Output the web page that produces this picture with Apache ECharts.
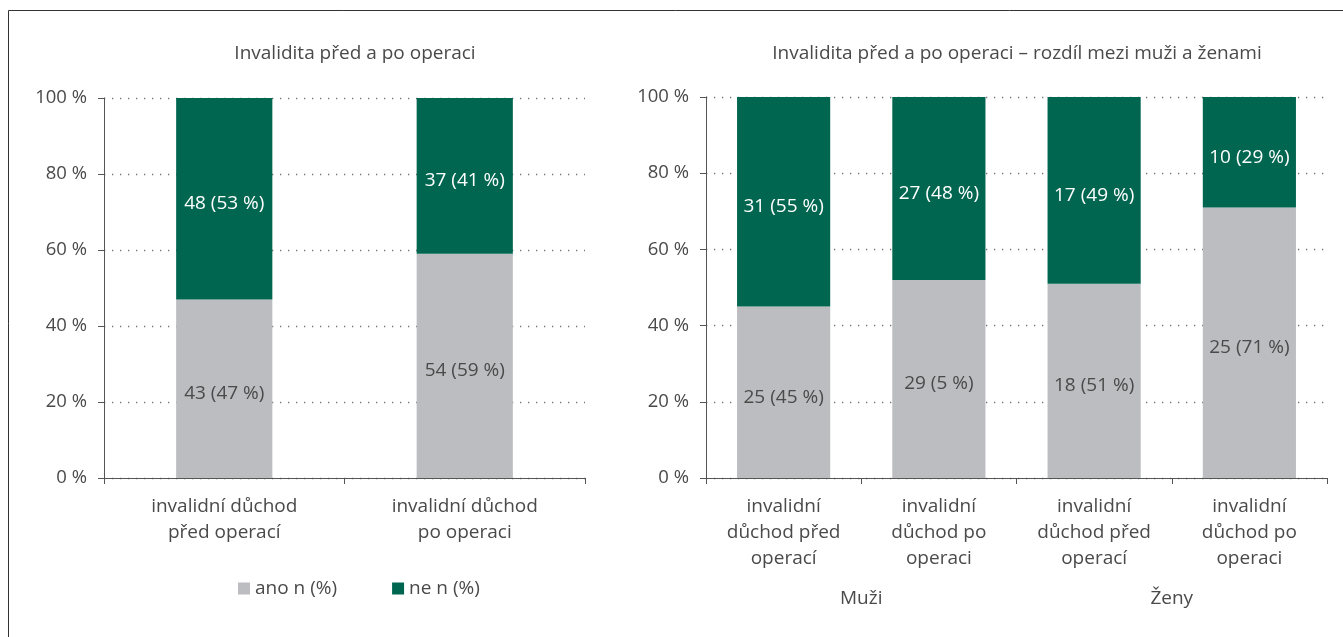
<!DOCTYPE html>
<html>
<head>
<meta charset="utf-8">
<script src="https://cdn.jsdelivr.net/npm/echarts@6/dist/echarts.min.js"></script>
<style>
html,body{margin:0;padding:0;background:#fff;}
#chart{width:1343px;height:637px;}
</style>
</head>
<body>
<div id="chart"></div>
<script>
// ---- data ----
const leftTitle = 'Invalidita před a po operaci';
const rightTitle = 'Invalidita před a po operaci – rozdíl mezi muži a ženami';
const leftCategories = ['invalidní důchod\npřed operací', 'invalidní důchod\npo operaci'];
const rightCategories = ['invalidní\ndůchod před\noperací', 'invalidní\ndůchod po\noperaci', 'invalidní\ndůchod před\noperací', 'invalidní\ndůchod po\noperaci'];
const rightGroups = ['Muži', 'Ženy'];
const seriesNames = ['ano n (%)', 'ne n (%)'];
const leftAno = [47, 59];
const leftNe = [53, 41];
const leftAnoLabels = ['43 (47 %)', '54 (59 %)'];
const leftNeLabels = ['48 (53 %)', '37 (41 %)'];
const rightAno = [45, 52, 51, 71];
const rightNe = [55, 48, 49, 29];
const rightAnoLabels = ['25 (45 %)', '29 (5 %)', '18 (51 %)', '25 (71 %)'];
const rightNeLabels = ['31 (55 %)', '27 (48 %)', '17 (49 %)', '10 (29 %)'];
const yTicks = [0, 20, 40, 60, 80, 100];

// ---- styles ----
const FONT = '"Open Sans", "DejaVu Sans", sans-serif';
const TXT = '#4a4a4a';
const GREEN = '#006650';
const GREY = '#bcbdc0';
const AXIS = '#555';
const FS = 19;

function yAxisCfg(grid) {
  return {
    type: 'value', gridIndex: grid, min: 0, max: 100, interval: 20,
    axisLine: {show: true, lineStyle: {color: AXIS, width: 1}},
    axisTick: {show: true, inside: false, length: 6, lineStyle: {color: AXIS}},
    axisLabel: {color: TXT, fontSize: 18.5, fontFamily: FONT, margin: 17,
      formatter: v => yTicks.includes(v) ? v + ' %' : ''},
    splitLine: {show: true, lineStyle: {color: '#777', width: 1.3, type: [1.3, 6.7]}}
  };
}
function xAxisCfg(grid, data) {
  return {
    type: 'category', gridIndex: grid, data: data,
    axisLine: {show: true, onZero: false, lineStyle: {color: AXIS, width: 1}},
    axisTick: {show: true, length: 6, alignWithLabel: false, lineStyle: {color: AXIS}},
    axisLabel: {color: TXT, fontSize: FS, fontFamily: FONT, lineHeight: 26, margin: 16, interval: 0},
    splitLine: {show: false}
  };
}
function barSeries(name, xi, yi, stack, data, labels, color, textColor, bw) {
  return {
    type: 'bar', name: name, xAxisIndex: xi, yAxisIndex: yi, stack: stack,
    data: data, barWidth: bw, itemStyle: {color: color},
    label: {show: true, position: 'inside', offset: [0, 5], color: textColor,
      fontSize: FS, fontFamily: FONT, formatter: p => labels[p.dataIndex]},
    emphasis: {disabled: true}
  };
}

const chart = echarts.init(document.getElementById('chart'), null, {renderer: 'canvas'});
chart.setOption({
  animation: false,
  backgroundColor: '#fff',
  textStyle: {fontFamily: FONT},
  title: [
    {text: leftTitle, left: 350, top: 39, textAlign: 'center',
      textStyle: {color: TXT, fontSize: FS, fontWeight: 'normal', fontFamily: FONT}},
    {text: rightTitle, left: 1012, top: 39, textAlign: 'center',
      textStyle: {color: TXT, fontSize: FS, fontWeight: 'normal', fontFamily: FONT}}
  ],
  legend: {
    data: seriesNames, left: 233, top: 574, itemWidth: 12, itemHeight: 12, itemGap: 55,
    icon: 'rect', textStyle: {color: TXT, fontSize: FS, fontFamily: FONT}, selectedMode: false
  },
  grid: [
    {left: 104, top: 98, width: 481, height: 380},
    {left: 706, top: 97, width: 621, height: 381}
  ],
  xAxis: [
    xAxisCfg(0, leftCategories),
    xAxisCfg(1, rightCategories),
    {type: 'category', gridIndex: 1, data: rightGroups, position: 'bottom',
      axisLine: {show: false}, axisTick: {show: false}, splitLine: {show: false},
      axisLabel: {color: TXT, fontSize: FS, fontFamily: FONT, margin: 111}}
  ],
  yAxis: [yAxisCfg(0), yAxisCfg(1)],
  series: [
    barSeries(seriesNames[0], 0, 0, 'L', leftAno, leftAnoLabels, GREY, TXT, '40%'),
    barSeries(seriesNames[1], 0, 0, 'L', leftNe, leftNeLabels, GREEN, '#fff', '40%'),
    barSeries(seriesNames[0], 1, 1, 'R', rightAno, rightAnoLabels, GREY, TXT, '60%'),
    barSeries(seriesNames[1], 1, 1, 'R', rightNe, rightNeLabels, GREEN, '#fff', '60%')
  ],
  graphic: [{
    type: 'polyline', silent: true,
    shape: {points: [[8.5, 637], [8.5, 10.5], [1343, 10.5]]},
    style: {stroke: '#333', lineWidth: 1, fill: null}
  }]
});
</script>
</body>
</html>
